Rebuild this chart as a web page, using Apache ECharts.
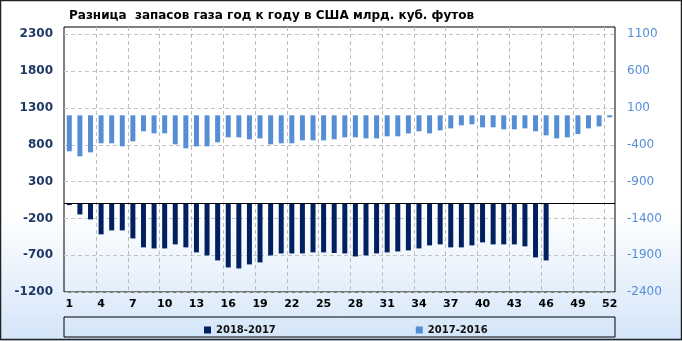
<!DOCTYPE html>
<html>
<head>
<meta charset="utf-8">
<script src="https://cdn.jsdelivr.net/npm/echarts@6/dist/echarts.min.js"></script>
<style>
html,body{margin:0;padding:0;background:#fff;}
#c{width:682px;height:341px;}
</style>
</head>
<body>
<div id="c"></div>
<script>
var titleText = 'Разница  запасов газа год к году в США млрд. куб. футов';
var weeks = [];
for (var i = 1; i <= 52; i++) weeks.push(String(i));
var seriesNames = ['2018-2017', '2017-2016'];
var diff2018_2017 = [-20,-146,-214,-417,-363,-363,-472,-594,-608,-608,
  -553,-594,-662,-703,-771,-866,-880,-825,-798,-703,
  -676,-676,-676,-662,-662,-670,-676,-717,-703,-676,
  -662,-649,-635,-608,-567,-553,-594,-594,-567,-526,
  -553,-553,-553,-580,-730,-771,null,null,null,null,null,null];
var diff2017_2016 = [-489,-557,-503,-380,-380,-421,-353,-217,-245,-245,
  -394,-448,-421,-421,-367,-299,-299,-326,-313,-394,
  -380,-380,-340,-340,-340,-326,-299,-299,-313,-313,
  -285,-285,-245,-217,-245,-204,-177,-136,-122,-163,
  -163,-190,-190,-177,-217,-272,-313,-299,-255,-177,-150,-27];
var leftTicks = [-1200,-700,-200,300,800,1300,1800,2300];
var rightTicks = [-2400,-1900,-1400,-900,-400,100,600,1100];
var leftMin = -1200, leftMax = 2400;
// vertical gridlines at every third category boundary: [boundary, top, bottom]
var vGrid = [];
for (var b = 3; b < 52; b += 3) vGrid.push([b, leftMax, leftMin]);

var chart = echarts.init(document.getElementById('c'));
function plain(v){ return String(v); }
chart.setOption({
  animation:false,
  backgroundColor:{type:'linear',x:0,y:0,x2:0,y2:1,colorStops:[
    {offset:0,color:'#ffffff'},{offset:0.62,color:'#ffffff'},{offset:1,color:'#d3e5f9'}]},
  title:{text:titleText,left:64,top:5,
    textStyle:{fontFamily:'DejaVu Sans',fontWeight:'bold',fontSize:12,color:'#000'}},
  grid:{left:64,right:67,top:27,bottom:49,show:true,borderColor:'#000',borderWidth:1,backgroundColor:'transparent'},
  legend:{data:seriesNames,left:199,top:320,itemGap:140,itemWidth:7,itemHeight:7,icon:'rect',
    textStyle:{fontFamily:'DejaVu Sans',fontWeight:'bold',fontSize:10,color:'#111'}},
  xAxis:[
    {type:'category',data:weeks,boundaryGap:true,
     axisLine:{show:false},axisTick:{show:false},
     axisLabel:{interval:2,margin:7,fontFamily:'DejaVu Sans',fontWeight:'bold',fontSize:11,color:'#000'},
     splitLine:{show:false}},
    {type:'value',min:0,max:weeks.length,position:'bottom',
     axisLine:{show:false},axisTick:{show:false},axisLabel:{show:false},splitLine:{show:false}}
  ],
  yAxis:[
    {type:'value',min:leftMin,max:leftMax,position:'left',
     axisLine:{show:false},axisTick:{show:false,customValues:leftTicks},
     axisLabel:{customValues:leftTicks,formatter:plain,margin:11,fontFamily:'DejaVu Sans',fontWeight:'bold',fontSize:12,color:'#1f3864'},
     splitLine:{show:true,lineStyle:{color:'#c4c4c4',type:[4,3],width:1}}},
    {type:'value',min:-2400,max:1200,position:'right',
     axisLine:{show:false},axisTick:{show:false,customValues:rightTicks},
     axisLabel:{customValues:rightTicks,formatter:plain,margin:12,fontFamily:'DejaVu Sans',fontSize:12,color:'#558ed5'},
     splitLine:{show:false}}
  ],
  graphic:[
    {type:'rect',shape:{x:64,y:317,width:551,height:20},style:{fill:'transparent',stroke:'#000',lineWidth:1},z:-1},
    {type:'rect',shape:{x:0.5,y:0.5,width:681,height:339},style:{fill:'transparent',stroke:'#222',lineWidth:1.5},z:-1}
  ],
  series:[
    {name:'vgrid',type:'custom',data:vGrid,xAxisIndex:1,yAxisIndex:0,z:1,silent:true,clip:false,
     encode:{x:0,y:[1,2]},
     renderItem:function(params, api){
       var p1 = api.coord([api.value(0), api.value(1)]);
       var p2 = api.coord([api.value(0), api.value(2)]);
       var x = Math.round(p1[0]) + 0.5;
       return {type:'line',shape:{x1:x,y1:p1[1],x2:x,y2:p2[1]},
         style:{stroke:'#bcbcbc',lineWidth:1,lineDash:[4,3],fill:null}};
     }},
    {name:seriesNames[0],type:'bar',data:diff2018_2017,xAxisIndex:0,yAxisIndex:0,barWidth:5,barGap:'-100%',z:2,
     itemStyle:{color:'#002060'},
     markLine:{silent:true,symbol:'none',label:{show:false},lineStyle:{color:'#000',type:'solid',width:1},data:[{yAxis:0}]}},
    {name:seriesNames[1],type:'bar',data:diff2017_2016,xAxisIndex:0,yAxisIndex:1,barWidth:5,barGap:'-100%',z:2,
     itemStyle:{color:'#558ed5'}}
  ]
});
</script>
</body>
</html>
